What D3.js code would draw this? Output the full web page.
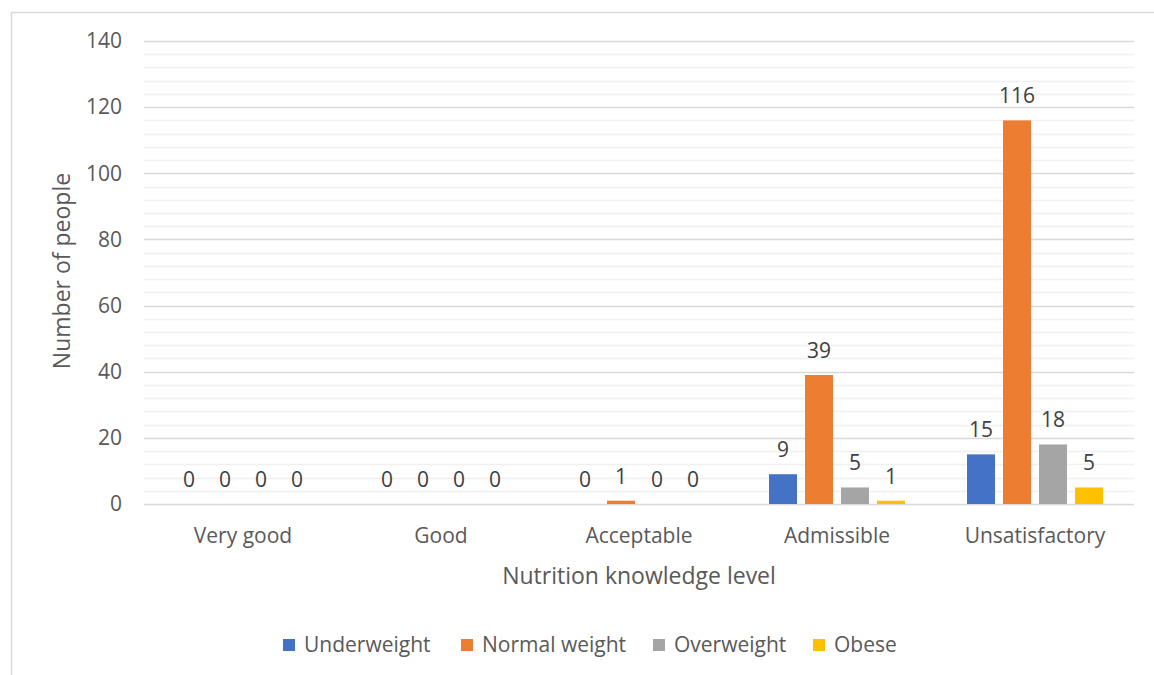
<!DOCTYPE html>
<html><head><meta charset="utf-8">
<script src="https://cdn.jsdelivr.net/npm/d3@7"></script>
<style>body{margin:0;background:#fff}svg{display:block}text{font-family:"Open Sans","Noto Sans",sans-serif}</style>
</head><body><svg id="c" width="1154" height="675"></svg>
<script>
const categories = ["Very good","Good","Acceptable","Admissible","Unsatisfactory"];
const seriesNames = ["Underweight","Normal weight","Overweight","Obese"];
const underweight = [0,0,0,9,15];
const normalWeight = [0,0,1,39,116];
const overweight = [0,0,0,5,18];
const obese = [0,0,0,1,5];
const yTicks = [0,20,40,60,80,100,120,140];
const colors = ["#4472c4","#ed7d31","#a5a5a5","#ffc000"];
const seriesValues = [underweight, normalWeight, overweight, obese];

const svg = d3.select("#c");
const L=144,R=1134,T=41,B=504;
// frame
svg.append("path").attr("d","M11.5,675 V12.5 H1154").attr("fill","none").attr("stroke","#d9d9d9").attr("stroke-width",1.5);

const y = d3.scaleLinear().domain([0,140]).range([B,T]);
const x0 = d3.scaleBand().domain(categories).range([L,R]).paddingInner(62/198).paddingOuter(31/198);
const x1 = d3.scaleBand().domain(seriesNames).range([0,x0.bandwidth()]).paddingInner(8/36).paddingOuter(0);

// minor gridlines
const minor = d3.range(0,141,4).filter(v=>v%20!==0);
svg.append("g").selectAll("line").data(minor).join("line")
  .attr("x1",L).attr("x2",R).attr("y1",d=>Math.round(y(d))+0.5).attr("y2",d=>Math.round(y(d))+0.5)
  .attr("stroke","#f0f0f0").attr("stroke-width",1.3);
svg.append("g").selectAll("line").data(yTicks).join("line")
  .attr("x1",L).attr("x2",R).attr("y1",d=>Math.round(y(d))+0.5).attr("y2",d=>Math.round(y(d))+0.5)
  .attr("stroke","#d9d9d9").attr("stroke-width",1.3);

// y tick labels
svg.append("g").selectAll("text").data(yTicks).join("text")
  .attr("x",122).attr("y",d=>y(d)).attr("dy","0.35em").attr("text-anchor","end")
  .attr("font-size",21).attr("fill","#595959").text(d=>d);

// bars
const data = [];
categories.forEach((c,i)=>seriesNames.forEach((s,j)=>data.push({c,s,v:seriesValues[j][i],color:colors[j]})));
svg.append("g").selectAll("rect").data(data).join("rect")
  .attr("x",d=>x0(d.c)+x1(d.s)).attr("width",x1.bandwidth())
  .attr("y",d=>y(d.v)).attr("height",d=>B-y(d.v)).attr("fill",d=>d.color);
svg.append("g").selectAll("text").data(data).join("text")
  .attr("x",d=>x0(d.c)+x1(d.s)+x1.bandwidth()/2).attr("y",d=>y(d.v)-17)
  .attr("text-anchor","middle").attr("font-size",21).attr("fill","#404040").text(d=>d.v);

// category labels
svg.append("g").selectAll("text").data(categories).join("text")
  .attr("x",d=>x0(d)+x0.bandwidth()/2).attr("y",536).attr("dy","0.35em").attr("text-anchor","middle")
  .attr("font-size",21).attr("fill","#595959").text(d=>d);

// axis titles
svg.append("text").attr("x",(L+R)/2).attr("y",576).attr("dy","0.35em").attr("text-anchor","middle")
  .attr("font-size",23).attr("fill","#595959").text("Nutrition knowledge level");
svg.append("text").attr("transform","translate(62,271) rotate(-90)").attr("dy","0.35em").attr("text-anchor","middle")
  .attr("font-size",23).attr("fill","#595959").text("Number of people");

// legend
const legX = [283,461,653,813];
const lg = svg.append("g").selectAll("g").data(seriesNames).join("g")
  .attr("transform",(d,i)=>`translate(${legX[i]},645)`);
lg.append("rect").attr("x",0).attr("y",-6).attr("width",12).attr("height",12).attr("fill",(d,i)=>colors[i]);
lg.append("text").attr("x",21).attr("y",0).attr("dy","0.35em").attr("font-size",21).attr("fill","#595959").text(d=>d);
</script></body></html>
